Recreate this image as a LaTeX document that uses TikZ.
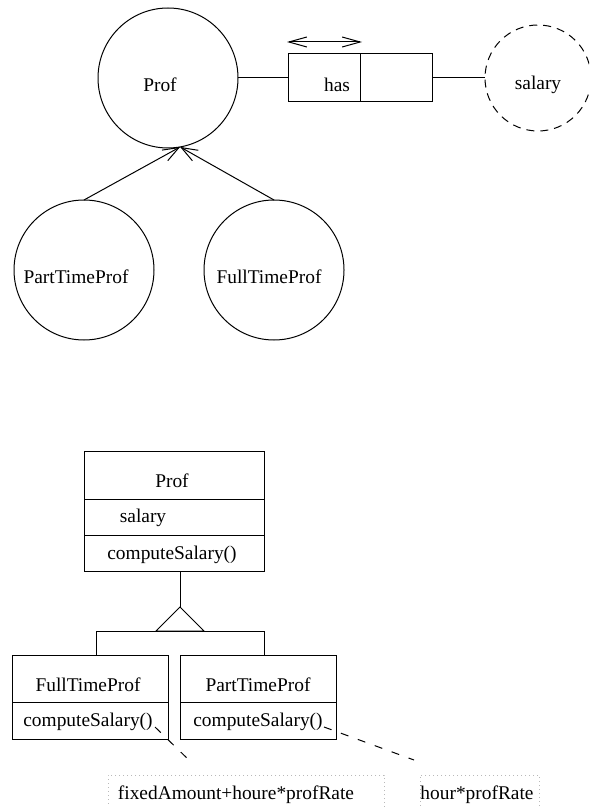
\documentclass[tikz,border=0pt]{standalone}
\usepackage{fontspec}
\setmainfont{Liberation Serif}
\usetikzlibrary{arrows.meta}
\begin{document}
\begin{tikzpicture}[x=0.5pt,y=-0.5pt,
  every node/.style={font=\fontsize{9.7}{11}\selectfont, inner sep=0pt, outer sep=0pt},
  ent/.style={circle, draw, line width=0.5pt, minimum size=70pt},
  attr/.style={circle, draw, line width=0.5pt, dash pattern=on 4pt off 3pt, minimum size=53pt},
  cell/.style={rectangle, draw, line width=0.5pt},
  link/.style={line width=0.5pt},
  barb/.style={link, -{Straight Barb[length=8pt,width=6pt]}},
  dblbarb/.style={link, {Straight Barb[length=9pt,width=5pt]}-{Straight Barb[length=9pt,width=5pt]}},
  notelink/.style={line width=0.5pt, dash pattern=on 4pt off 5pt},
  note/.style={rectangle, draw=gray!55, line width=0.4pt, dash pattern=on 0.4pt off 1.6pt},
]
\useasboundingbox (0,0) rectangle (589,807);
\clip (0,0) rectangle (589,807);

% ---------- entity / relationship view ----------
\node[ent] (prof) at (168,78) {};
\node (proftxt) at (160,85) {Prof};

\node[cell, minimum width=36pt, minimum height=24pt] (hasL) at (324,78) {};
\node[cell, minimum width=36pt, minimum height=24pt] (hasR) at (396,78) {};
\node (hastxt) at (337,85) {has};

\node[attr] (salary) at (538,78) {};
\node (salarytxt) at (538,85) {salary};

\draw[link] (prof.east) -- (hasL.west);
\draw[link] (hasR.east) -- (salary.west);

\coordinate (dirL) at (287,42);
\coordinate (dirR) at (362,42);
\draw[dblbarb] (dirL) -- (dirR);

\node[ent] (ptp) at (84,270) {};
\node (ptptxt) at (76,277) {PartTimeProf};
\node[ent] (ftp) at (274,270) {};
\node (ftptxt) at (269,277) {FullTimeProf};

\draw[barb] (ptp.north) -- (prof.-80);
\draw[barb] (ftp.north) -- (prof.-80);

% ---------- class view ----------
\node[cell, minimum width=90pt, minimum height=24pt] (cname) at (174,475) {};
\node (cnametxt) at (172,481) {Prof};
\node[cell, minimum width=90pt, minimum height=18pt] (cattr) at (174,517) {};
\node (cattrtxt) at (143,518) {salary};
\node[cell, minimum width=90pt, minimum height=18pt] (cop) at (174,553) {};
\node (coptxt) at (172,555) {computeSalary()};

\node[cell, minimum width=78pt, minimum height=23.5pt] (fname) at (90,678.5) {};
\node (fnametxt) at (88,685) {FullTimeProf};
\node[cell, minimum width=78pt, minimum height=18.5pt] (fop) at (90,720.5) {};
\node (foptxt) at (88,722) {computeSalary()};

\node[cell, minimum width=78pt, minimum height=23.5pt] (pname) at (258,678.5) {};
\node (pnametxt) at (258,685) {PartTimeProf};
\node[cell, minimum width=78pt, minimum height=18.5pt] (pop) at (258,720.5) {};
\node (poptxt) at (258,722) {computeSalary()};

% generalisation triangle and fork
\coordinate (apex) at (180,607);
\coordinate (forkL) at (96,631);
\coordinate (forkR) at (264,631);
\draw[link] (cop.south -| apex) -- (apex);
\draw[link] (apex) -- (156,631) -- (204,631) -- cycle;
\draw[link] (forkL) -- (forkR);
\draw[link] (forkL) -- (forkL |- fname.north);
\draw[link] (forkR) -- (forkR |- pname.north);

% notes
\node[note, minimum width=138pt, minimum height=22pt] (note1) at (246,797) {};
\node (note1txt) at (236,795) {fixedAmount+houre*profRate};
\node[note, minimum width=59.5pt, minimum height=22pt] (note2) at (479.5,797) {};
\node (note2txt) at (477,795) {hour*profRate};

\coordinate (n1a) at (155,727);
\coordinate (n1b) at (192,763);
\coordinate (n2a) at (324,727);
\coordinate (n2b) at (414,760);
\draw[notelink] (n1a) -- (n1b);
\draw[notelink] (n2a) -- (n2b);
\end{tikzpicture}
\end{document}
